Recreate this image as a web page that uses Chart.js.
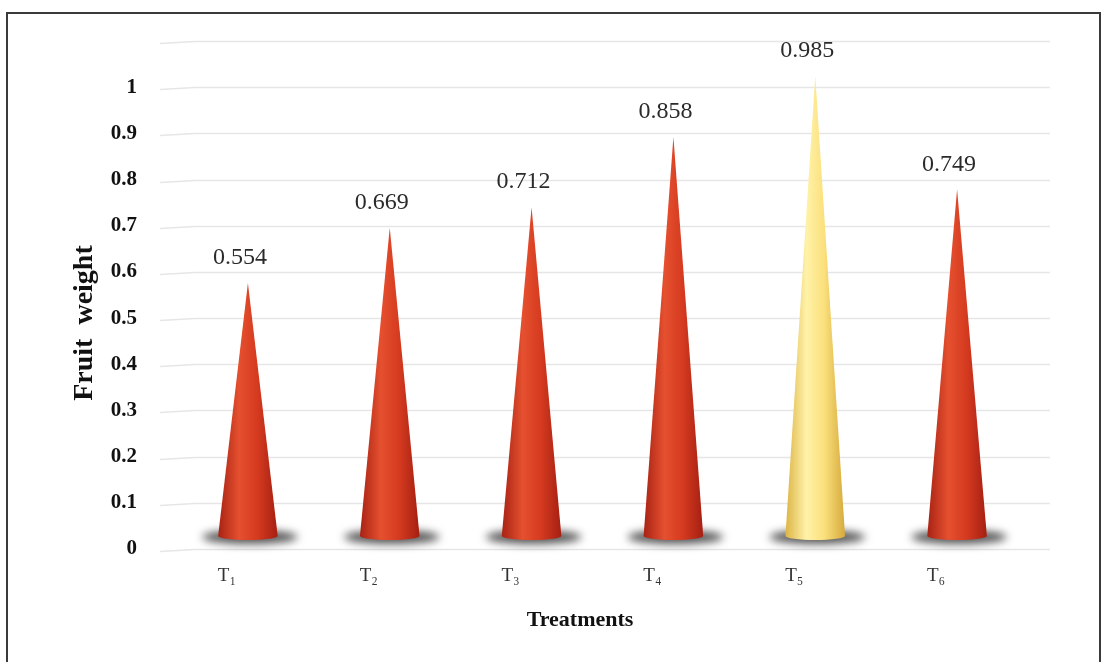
<!DOCTYPE html>
<html>
<head>
<meta charset="utf-8">
<script src="https://cdn.jsdelivr.net/npm/chart.js@4.4.1/dist/chart.umd.min.js"></script>
<style>
  html, body { margin: 0; padding: 0; background: #fff; }
  #wrap { width: 1104px; height: 662px; }
</style>
</head>
<body>
<div id="wrap"><canvas id="conechart"></canvas></div>
<script>
"use strict";

// data
var treatments = ["T\u2081", "T\u2082", "T\u2083", "T\u2084", "T\u2085", "T\u2086"];
var fruitWeight = [0.554, 0.669, 0.712, 0.858, 0.985, 0.749];
var yTicks = [0, 0.1, 0.2, 0.3, 0.4, 0.5, 0.6, 0.7, 0.8, 0.9, 1];
var xTitle = 'Treatments';
var yTitle = 'Fruit  weight';

// cone colours: [edge, light, mid, edge]
var redCone = ['#a82214', '#e5502f', '#d63b20', '#a51f12'];
var yellowCone = ['#dcb445', '#fff2a8', '#fbe07c', '#d6aa3c'];

/*----------------------------------------*/
/*  frame round the picture
/*----------------------------------------*/
var framePlugin = {
	id: 'frame',
	beforeDraw: function (chart) {
		var c = chart.ctx;
		c.save();
		c.fillStyle = '#fff';
		c.fillRect(0, 0, chart.width, chart.height);
		c.strokeStyle = '#3a3a3a';
		c.lineWidth = 2;
		c.strokeRect(7, 13, 1093, 662);
		c.restore();
	}
};

/*----------------------------------------*/
/*  back-wall grid lines, a bit wider than the plot
/*----------------------------------------*/
var wallGrid = {
	id: 'wallGrid',
	beforeDatasetsDraw: function (chart) {
		var c = chart.ctx, a = chart.chartArea, ys = chart.scales.y;
		c.save();
		c.strokeStyle = '#e6e6e6';
		c.lineWidth = 1.5;
		for (var v = 0; v <= 11; v++) {
			var py = Math.round(ys.getPixelForValue(v / 10)) + 0.5;
			c.beginPath();
			c.moveTo(a.left - 17, py + 2);
			c.lineTo(a.left + 18, py);
			c.lineTo(a.right + 22, py);
			c.stroke();
		}
		c.restore();
	}
};

/*----------------------------------------*/
/*  axis titles, placed where the original has them
/*----------------------------------------*/
var axisTitles = {
	id: 'axisTitles',
	afterDraw: function (chart) {
		var c = chart.ctx;
		c.save();
		c.fillStyle = '#111';
		c.textAlign = 'center';
		c.textBaseline = 'middle';
		c.font = 'bold 22px "Liberation Serif", serif';
		c.fillText(xTitle, 580, 620);
		c.translate(85, 323);
		c.rotate(-Math.PI / 2);
		c.font = 'bold 28px "Liberation Serif", serif';
		c.fillText(yTitle, 0, 0);
		c.restore();
	}
};

/*----------------------------------------*/
/*  cones drawn on top of the (invisible) bars
/*----------------------------------------*/
var cones = {
	id: 'cones',
	afterDatasetsDraw: function (chart) {
		var c = chart.ctx;
		var meta = chart.getDatasetMeta(0);
		var maxVal = Math.max.apply(null, fruitWeight);
		meta.data.forEach(function (bar, i) {
			var cx = bar.x, tip = bar.y, baseY = bar.base - 13;
			var hw = bar.width / 2;
			var col = fruitWeight[i] === maxVal ? yellowCone : redCone;

			// soft shadow on the floor
			c.save();
			c.filter = 'blur(4px)';
			c.fillStyle = 'rgba(55,55,55,0.85)';
			c.beginPath();
			c.ellipse(cx + 2, baseY + 1, hw + 18, 7, 0, 0, Math.PI * 2);
			c.fill();
			c.restore();

			// cone body
			var g = c.createLinearGradient(cx - hw, 0, cx + hw, 0);
			g.addColorStop(0, col[0]);
			g.addColorStop(0.35, col[1]);
			g.addColorStop(0.65, col[2]);
			g.addColorStop(1, col[3]);
			c.save();
			c.fillStyle = g;
			c.beginPath();
			c.moveTo(cx, tip);
			c.lineTo(cx + hw, baseY);
			c.ellipse(cx, baseY, hw, 4, 0, 0, Math.PI, false);
			c.lineTo(cx, tip);
			c.closePath();
			c.fill();
			c.restore();

			// value label
			c.save();
			c.font = '24px "Liberation Serif", serif';
			c.fillStyle = '#2b2b2b';
			c.textAlign = 'center';
			c.textBaseline = 'middle';
			c.fillText(fruitWeight[i].toFixed(3), cx - 8, tip - 25);
			c.restore();
		});
	}
};

var ctx = document.getElementById("conechart");
var conechart = new Chart(ctx, {
	type: 'bar',
	data: {
		labels: treatments,
		datasets: [{
			label: 'Fruit weight',
			data: fruitWeight,
			yAxisID: 'y2',
			backgroundColor: 'rgba(0,0,0,0)',
			borderWidth: 0,
			barPercentage: 1,
			categoryPercentage: 0.42
		}]
	},
	options: {
		responsive: true,
		maintainAspectRatio: false,
		animation: false,
		layout: {
			autoPadding: false,
			padding: { left: 64, right: 76, top: 41, bottom: 25 }
		},
		plugins: {
			legend: { display: false },
			tooltip: { enabled: false }
		},
		scales: {
			x: {
				grid: { display: false, drawTicks: false },
				border: { display: false },
				ticks: {
					labelOffset: -21,
					padding: 16,
					color: '#333',
					font: { family: '"Liberation Serif", serif', size: 19 }
				},
				afterFit: function (scale) { scale.height = 88; }
			},
			y: {
				min: 0,
				max: 1.1,
				afterBuildTicks: function (scale) {
					scale.ticks = yTicks.concat([1.1]).map(function (v) { return { value: v }; });
				},
				grid: { display: false, drawTicks: false },
				border: { display: false },
				ticks: {
					padding: 40,
					color: '#111',
					font: { family: '"Liberation Serif", serif', size: 21, weight: 'bold' },
					callback: function (v) { return v > 1.05 ? '' : String(Math.round(v * 10) / 10); }
				},
				afterFit: function (scale) {
					scale.width = 113;
					scale.paddingTop = 0;
					scale.paddingBottom = 0;
				}
			},
			// cones sit on a slightly deeper plane than the labelled wall
			y2: {
				display: false,
				min: 0,
				max: 1.058
			}
		}
	},
	plugins: [framePlugin, wallGrid, axisTitles, cones]
});
</script>
</body>
</html>
